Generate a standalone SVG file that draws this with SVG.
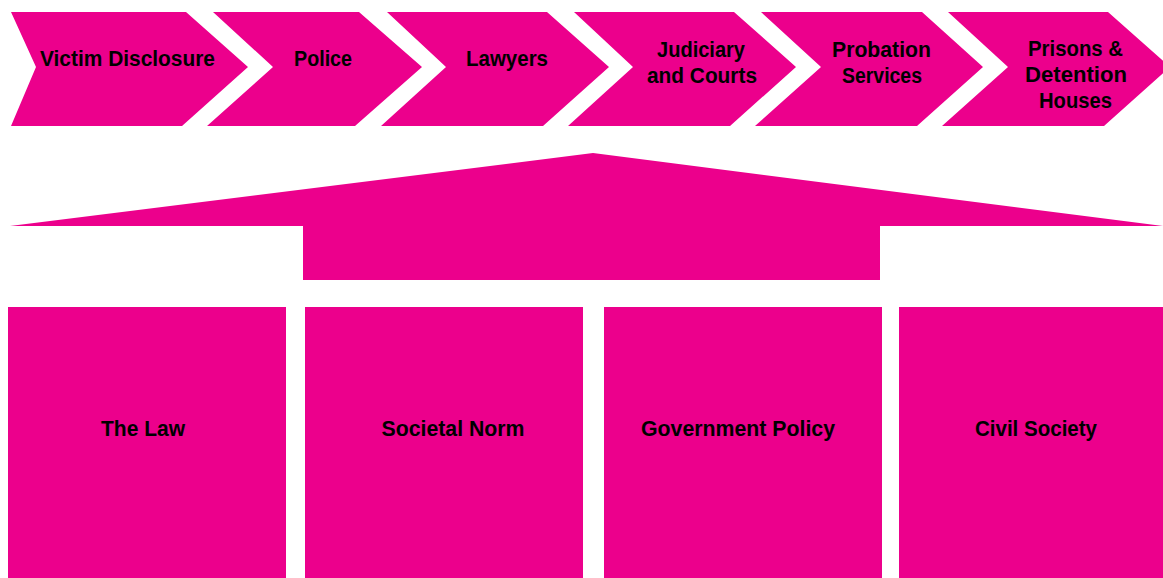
<svg xmlns="http://www.w3.org/2000/svg" width="1163" height="578" viewBox="0 0 1163 578">
<style>
.p{fill:#EC008C}
.t{font-family:"Liberation Sans",Arial,sans-serif;font-weight:bold;font-size:22px;fill:#000;text-anchor:middle}
</style>
<rect width="1163" height="578" fill="#fff"/>
<g id="stage1"><polygon class="p" points="11,12 186,12 248,67 182,126 11,126 36,67"/><text class="t" x="127.5" y="66" textLength="175" lengthAdjust="spacingAndGlyphs">Victim Disclosure</text></g>
<g id="stage2"><polygon class="p" points="213,12 359,12 422,67 355,126 207,126 273,67"/><text class="t" x="323" y="66" textLength="58" lengthAdjust="spacingAndGlyphs">Police</text></g>
<g id="stage3"><polygon class="p" points="387,12 547,12 609,67 543,126 381,126 446,67"/><text class="t" x="507" y="66" textLength="82" lengthAdjust="spacingAndGlyphs">Lawyers</text></g>
<g id="stage4"><polygon class="p" points="574,12 734,12 796,67 730,126 568,126 633,67"/><text class="t" x="701" y="57" textLength="88" lengthAdjust="spacingAndGlyphs">Judiciary</text><text class="t" x="702" y="83" textLength="110" lengthAdjust="spacingAndGlyphs">and Courts</text></g>
<g id="stage5"><polygon class="p" points="761,12 922,12 983,67 917,126 755,126 821,67"/><text class="t" x="881.5" y="57" textLength="99" lengthAdjust="spacingAndGlyphs">Probation</text><text class="t" x="882" y="83" textLength="80" lengthAdjust="spacingAndGlyphs">Services</text></g>
<g id="stage6"><polygon class="p" points="948,12 1108,12 1170,67 1104,126 942,126 1008,67"/><text class="t" x="1075.5" y="56" textLength="95" lengthAdjust="spacingAndGlyphs">Prisons &amp;</text><text class="t" x="1076" y="82" textLength="102" lengthAdjust="spacingAndGlyphs">Detention</text><text class="t" x="1075.5" y="108" textLength="73" lengthAdjust="spacingAndGlyphs">Houses</text></g>
<g id="connectors"><polygon class="p" points="593,153 1163,226 880,226 880,280 303,280 303,226 10,226"/></g>
<g id="law"><rect class="p" x="8" y="307" width="278" height="271"/><text class="t" x="143" y="436" textLength="84" lengthAdjust="spacingAndGlyphs">The Law</text></g>
<g id="norm"><rect class="p" x="305" y="307" width="278" height="271"/><text class="t" x="453" y="436" textLength="143" lengthAdjust="spacingAndGlyphs">Societal Norm</text></g>
<g id="policy"><rect class="p" x="604" y="307" width="278" height="271"/><text class="t" x="738" y="436" textLength="194" lengthAdjust="spacingAndGlyphs">Government Policy</text></g>
<g id="civil"><rect class="p" x="899" y="307" width="264" height="271"/><text class="t" x="1036" y="436" textLength="122" lengthAdjust="spacingAndGlyphs">Civil Society</text></g>
</svg>
